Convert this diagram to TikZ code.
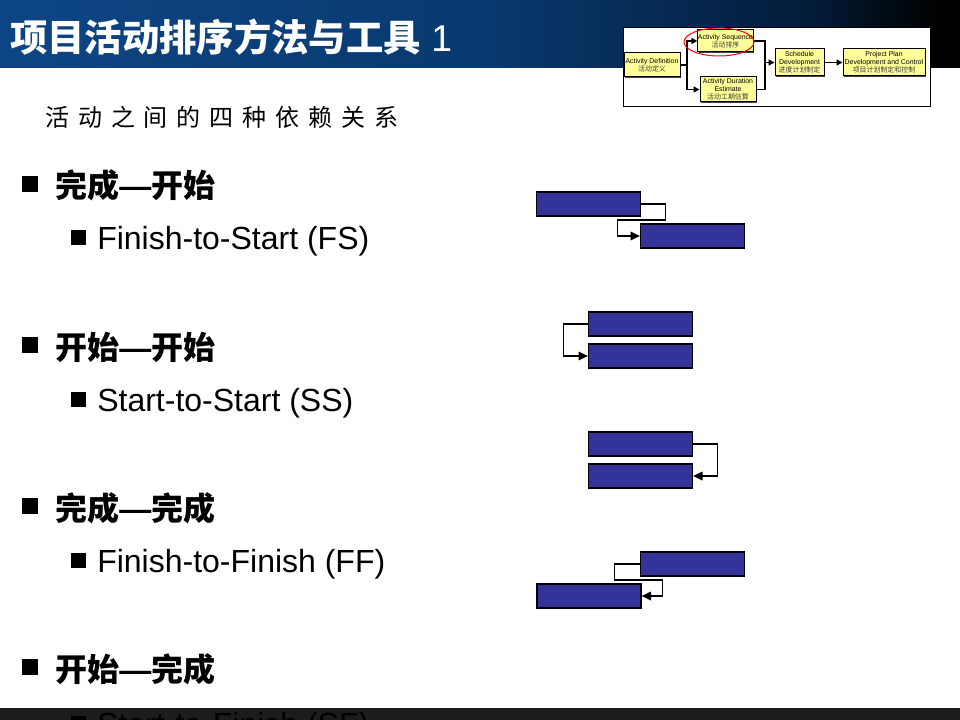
\documentclass[tikz,border=0pt]{standalone}
\usepackage{fontspec}
\setmainfont{Liberation Sans}
\newfontfamily\cjk{Noto Sans CJK SC}
\newfontfamily\cjkwide{Noto Sans CJK SC}[LetterSpace=37]
\usetikzlibrary{arrows.meta,shapes.geometric,shadows}
\definecolor{tbA}{HTML}{0D4584}
\definecolor{tbB}{HTML}{093A70}
\definecolor{tbC}{HTML}{031C3A}
\definecolor{barblue}{HTML}{333399}
\definecolor{boxy}{HTML}{FFFF99}
\definecolor{footbar}{HTML}{1C1C1C}
\newcommand{\hdash}{{\normalfont\bfseries —}}
\pgfdeclarehorizontalshading{titlebar}{100bp}{color(0bp)=(tbA); color(25bp)=(tbA); color(50bp)=(tbB); color(67bp)=(tbC); color(74bp)=(black); color(100bp)=(black)}
\begin{document}
\begin{tikzpicture}[x=0.75pt,y=-0.75pt,
  head/.style={anchor=base west, inner sep=0, font=\cjk\bfseries\fontsize{24}{26}\selectfont},
  stext/.style={anchor=base west, inner sep=0, font=\fontsize{24}{26}\selectfont},
  bul/.style={rectangle, fill=black, minimum size=12pt, inner sep=0},
  sbul/.style={rectangle, fill=black, minimum size=11.25pt, inner sep=0},
  sbox/.style={draw=black, line width=0.75pt, fill=boxy, inner sep=0, align=center,
     font=\fontsize{5.2}{6.2}\selectfont,
     drop shadow={shadow xshift=0.9pt, shadow yshift=-0.9pt, fill=black!75, opacity=1}},
  darr/.style={line width=1pt, -{Triangle[length=4.5pt,width=4.5pt]}},
  dline/.style={line width=1pt},
  gbar/.style={rectangle, draw=black, line width=1pt, fill=barblue, minimum width=78pt, minimum height=18pt, inner sep=0},
  garr/.style={line width=0.9pt, -{Triangle[length=7pt,width=6.5pt]}}
]
\useasboundingbox (0,0) rectangle (960,720);
\fill[white] (0,0) rectangle (960,720);
\shade[shading=titlebar] (0,0) rectangle (960,68);

% title
\node[anchor=base west, text=white, inner sep=0, font=\fontsize{28}{30}\selectfont] (title) at (10,52) {{\cjk\bfseries 项目活动排序方法与工具} 1};

% small process diagram
\node[draw=black, fill=white, line width=0.75pt, minimum width=230.25pt, minimum height=59.25pt, inner sep=0] (panel) at (776.5,67.5) {};
\node[sbox, minimum width=42pt, minimum height=18pt] (AD) at (652,65) {Activity Definition\\{\cjk\color{black!75}活动定义}};
\node[sbox, minimum width=41.25pt, minimum height=16.5pt] (AS) at (725.5,41) {Activity Sequence\\{\cjk\color{black!75}活动排序}};
\node[sbox, minimum width=42pt, minimum height=18.75pt] (ADE) at (728,89.5) {Activity Duration\\Estimate\\{\cjk\color{black!75}活动工期估算}};
\node[sbox, minimum width=36.75pt, minimum height=20.25pt] (SD) at (799.5,62.5) {Schedule\\Development\\{\cjk\color{black!75}进度计划制定}};
\node[sbox, minimum width=61.5pt, minimum height=20.25pt] (PP) at (884,62.5) {Project Plan\\Development and Control\\{\cjk\color{black!75}项目计划制定和控制}};
\coordinate (j1) at (687,65);
\coordinate (j2) at (765,62.5);
\draw[dline] (AD.east) -- (j1);
\draw[darr] (j1) |- (AS.west);
\draw[darr] (j1) |- (ADE.west);
\draw[dline] (AS.east) -| (j2);
\draw[dline] (ADE.east) -| (j2);
\draw[darr] (j2) -- (SD.west);
\draw[darr] (SD.east) -- (PP.west);
\node[ellipse, draw=red, line width=0.75pt, minimum width=52.5pt, minimum height=21pt, inner sep=0] (hl) at (719,42) {};

% subtitle
\node[anchor=base west, inner sep=0, font=\cjkwide\fontsize{18}{20}\selectfont] (subtitle) at (45,127) {活动之间的四种依赖关系};

% row 1
\node[bul] (b1) at (30,184) {};
\node[head] (h1) at (55,198) {完成\hdash 开始};
\node[sbul] (sb1) at (78.5,238) {};
\node[stext] (s1) at (97,250) {Finish-to-Start (FS)};
% row 2
\node[bul] (b2) at (30,345) {};
\node[head] (h2) at (55,359) {开始\hdash 开始};
\node[sbul] (sb2) at (78.5,399) {};
\node[stext] (s2) at (97,411) {Start-to-Start (SS)};
% row 3
\node[bul] (b3) at (30,506) {};
\node[head] (h3) at (55,520) {完成\hdash 完成};
\node[sbul] (sb3) at (78.5,560) {};
\node[stext] (s3) at (97,572) {Finish-to-Finish (FF)};
% row 4
\node[bul] (b4) at (30,667) {};
\node[head] (h4) at (55,681) {开始\hdash 完成};
\fill[footbar] (0,708) rectangle (960,720);
\node[sbul] (sb4) at (78.5,723) {};
\node[stext] (s4) at (97,735) {Start-to-Finish (SF)};

% gantt FS
\node[gbar] (fs1) at (588.5,204) {};
\node[gbar] (fs2) at (692.5,236) {};
\draw[garr] (fs1.east) -- ++(24,0) -- ++(0,16) -- ++(-48,0) |- (fs2.west);
% gantt SS
\node[gbar] (ss1) at (640.5,324) {};
\node[gbar] (ss2) at (640.5,356) {};
\draw[garr] (ss1.west) -- ++(-24,0) |- (ss2.west);
% gantt FF
\node[gbar] (ff1) at (640.5,444) {};
\node[gbar] (ff2) at (640.5,476) {};
\draw[garr] (ff1.east) -- ++(24,0) |- (ff2.east);
% gantt SF
\node[gbar] (sf1) at (692.5,564) {};
\node[gbar] (sf2) at (589,596) {};
\draw[garr] (sf1.west) -- ++(-25,0) -- ++(0,16) -- ++(48,0) |- (sf2.east);
\end{tikzpicture}
\end{document}
